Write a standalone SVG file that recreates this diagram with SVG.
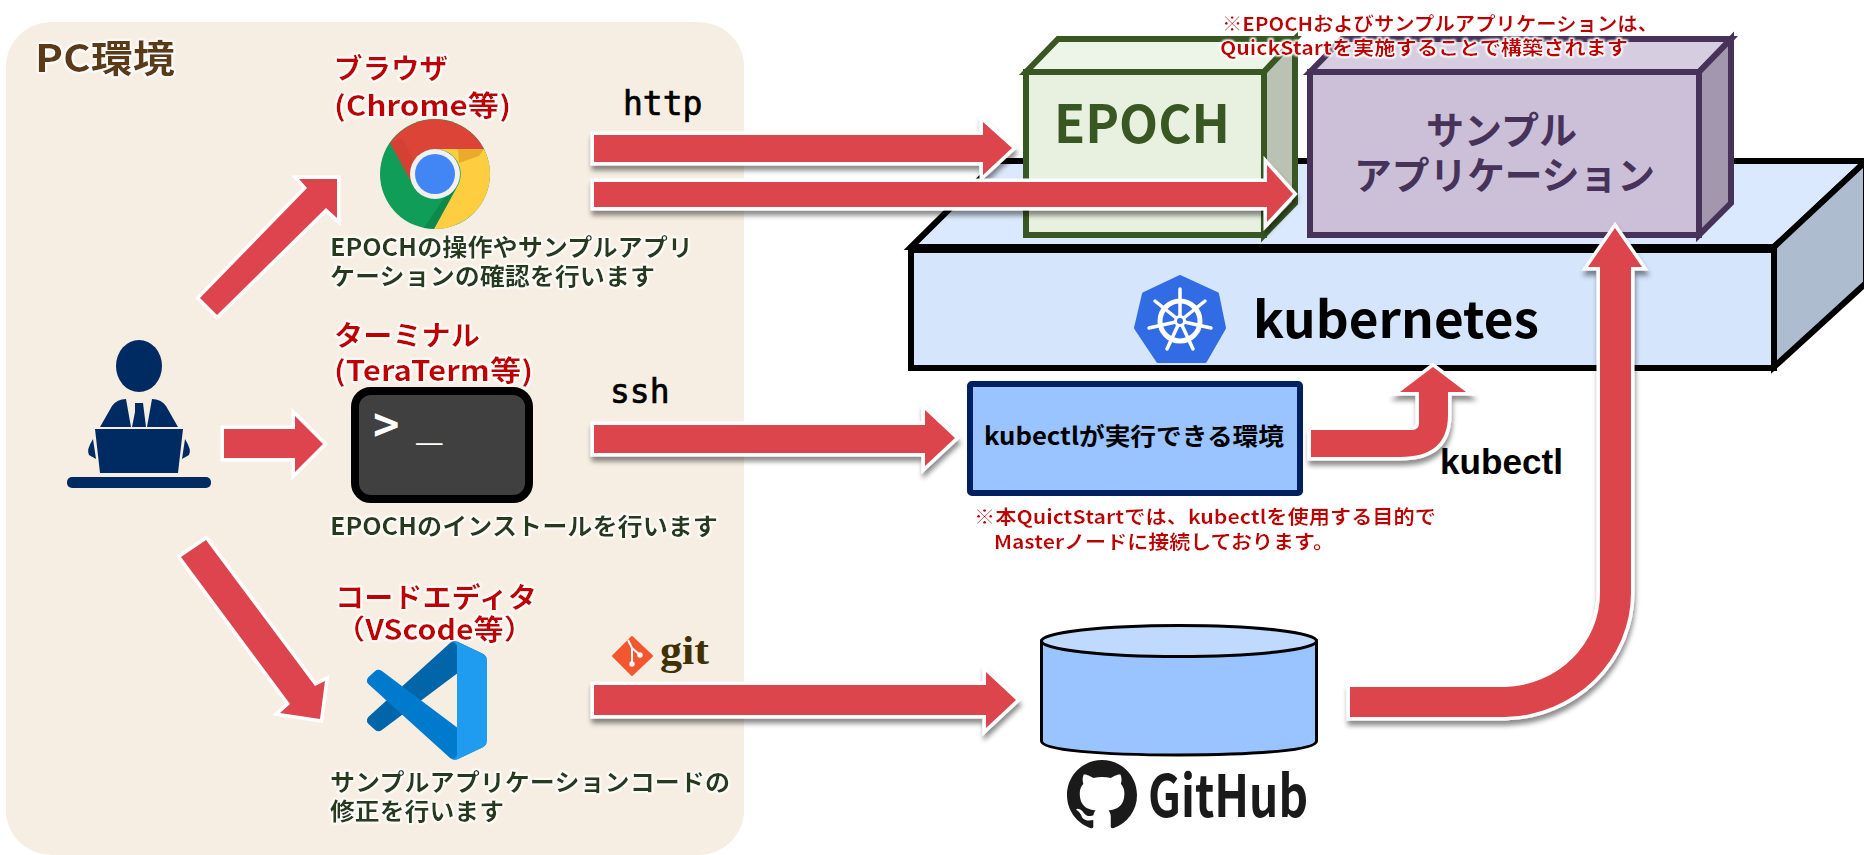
<svg xmlns="http://www.w3.org/2000/svg" width="1864" height="855" viewBox="0 0 1864 855">
<style>
text{font-family:"Noto Sans CJK JP","Liberation Sans",sans-serif;font-weight:700}
.red{fill:#C00000;filter:url(#glow)}
.dsc{fill:#263A1C;font-size:24px;filter:url(#glow)}
.mono{font-family:"DejaVu Sans Mono","Liberation Mono",monospace;font-size:33px;font-weight:400;fill:#000;stroke:#000;stroke-width:.7}
.arrow{fill:#DD444E;stroke:#fff;stroke-width:7;stroke-linejoin:miter;stroke-miterlimit:8;paint-order:stroke}
.sh{filter:url(#sh)}
</style>
<defs>
<filter id="glow" x="-10%" y="-30%" width="120%" height="160%"><feMorphology in="SourceAlpha" operator="dilate" radius="1"/><feGaussianBlur stdDeviation="1.3" result="b"/><feFlood flood-color="#fff"/><feComposite in2="b" operator="in"/><feMerge><feMergeNode/><feMergeNode/><feMergeNode in="SourceGraphic"/></feMerge></filter>
<filter id="sh" x="-10%" y="-30%" width="120%" height="170%"><feDropShadow dx="1" dy="5" stdDeviation="2.5" flood-color="#000" flood-opacity=".45"/></filter>
</defs>
<rect width="1864" height="855" fill="#fff"/>
<g id="pc-panel"><rect x="6" y="22" width="738" height="833" rx="46" ry="44" fill="#F6EEE3"/>
<text x="35" y="72" font-size="38" fill="#5A3A14" textLength="140" lengthAdjust="spacingAndGlyphs" filter="url(#glow)">PC環境</text></g>
<g id="user" fill="#002B62">
<ellipse cx="139" cy="366" rx="23" ry="26"/>
<path d="M100 427L112 406Q117 399 126 399L131 427ZM147 427L152 399Q161 399 166 406L178 427Z"/>
<path d="M135 403H143L146 427H132L135 412Z"/>
<path d="M95 429H183L178 473H100ZM93 439Q86 450 89 455L96 459ZM185 439Q192 450 189 455L182 459Z"/>
<rect x="67" y="477" width="144" height="11" rx="5"/></g>
<g id="browser">
<text class="red" x="334" y="79" font-size="28" textLength="114" lengthAdjust="spacingAndGlyphs">ブラウザ</text>
<text class="red" x="334" y="116" font-size="28" textLength="177" lengthAdjust="spacingAndGlyphs">(Chrome等)</text>
<circle cx="435" cy="174" r="55" fill="#0F9D58"/>
<path d="M435 149H484A55 55 0 0 0 390 143L414 187A25 25 0 0 1 435 149Z" fill="#DB4437"/>
<path d="M435 149H484A55 55 0 0 1 434 229L457 187A25 25 0 0 0 435 149Z" fill="#FFCD40"/>
<path d="M390 143L414 187L420 172L402 138Z" fill="#B8352A" opacity=".2"/>
<path d="M458 149H484L479 156L459 163Z" fill="#D98F1E" opacity=".55"/>
<path d="M434 229L457 187L446 195L424 228Z" fill="#0A6B3C" opacity=".4"/>
<circle cx="435" cy="174" r="25" fill="#F1F1F1"/><circle cx="435" cy="174" r="20" fill="#4285F4"/>
<text class="dsc" x="330" y="256" textLength="363" lengthAdjust="spacingAndGlyphs">EPOCHの操作やサンプルアプリ</text>
<text class="dsc" x="330" y="285" textLength="325" lengthAdjust="spacingAndGlyphs">ケーションの確認を行います</text></g>
<g id="terminal">
<text class="red" x="334" y="346" font-size="28" textLength="146" lengthAdjust="spacingAndGlyphs">ターミナル</text>
<text class="red" x="334" y="381" font-size="28" textLength="199" lengthAdjust="spacingAndGlyphs">(TeraTerm等)</text>
<rect x="355" y="391" width="174" height="108" rx="16" fill="#404040" stroke="#000" stroke-width="8"/>
<text x="373" y="439" font-size="44" fill="#fff" style="font-family:'DejaVu Sans Mono',monospace;font-weight:700">&gt;</text>
<text x="416" y="434" font-size="44" fill="#fff" style="font-family:'DejaVu Sans Mono',monospace;font-weight:400">_</text>
<text class="dsc" x="330" y="535" textLength="388" lengthAdjust="spacingAndGlyphs">EPOCHのインストールを行います</text></g>
<g id="vscode">
<text class="red" x="335" y="608" font-size="28" textLength="202" lengthAdjust="spacingAndGlyphs">コードエディタ</text>
<text class="red" x="335" y="640" font-size="28" textLength="199" lengthAdjust="spacingAndGlyphs">（VScode等）</text>
<g transform="translate(367 641) scale(1.2 1.19)">
<path fill="#0065A9" d="M96.4614 10.7962L75.8569 0.875542C73.4719 -0.272773 70.6217 0.211611 68.75 2.08333L1.29858 63.5832C-0.515693 65.2373 -0.513607 68.0937 1.30308 69.7452L6.81272 74.754C8.29793 76.1042 10.5347 76.2036 12.1338 74.9905L93.3609 13.3699C96.086 11.3026 100 13.2462 100 16.6667V16.4275C100 14.0265 98.6246 11.8378 96.4614 10.7962Z"/>
<path fill="#007ACC" d="M96.4614 89.2038L75.8569 99.1245C73.4719 100.273 70.6217 99.7884 68.75 97.9167L1.29858 36.4169C-0.515693 34.7627 -0.513607 31.9063 1.30308 30.2548L6.81272 25.246C8.29793 23.8958 10.5347 23.7964 12.1338 25.0095L93.3609 86.6301C96.086 88.6974 100 86.7538 100 83.3334V83.5726C100 85.9735 98.6246 88.1622 96.4614 89.2038Z"/>
<path fill="#1F9CF0" d="M75.8578 99.1263C73.4721 100.274 70.6219 99.7885 68.75 97.9166C71.0564 100.223 75 98.5895 75 95.3278V4.67213C75 1.41039 71.0564 -0.223106 68.75 2.08329C70.6219 0.211402 73.4721 -0.273666 75.8578 0.873633L96.4587 10.7807C98.6234 11.8217 100 14.0112 100 16.4132V83.5871C100 85.9891 98.6234 88.1786 96.4586 89.2196L75.8578 99.1263Z"/></g>
<text class="dsc" x="330" y="791" textLength="400" lengthAdjust="spacingAndGlyphs">サンプルアプリケーションコードの</text>
<text class="dsc" x="330" y="820" textLength="174" lengthAdjust="spacingAndGlyphs">修正を行います</text></g>
<g id="kubernetes">
<path d="M911 247L998 161H1866L1774 247Z" fill="#DAE9FD" stroke="#000" stroke-width="6"/>
<path d="M1774 247L1866 161V283L1774 367Z" fill="#ADBCCF" stroke="#000" stroke-width="6"/>
<rect x="911" y="250" width="863" height="118" fill="#D4E5FC" stroke="#000" stroke-width="6"/>
<path d="M1180 277L1217 294L1224 328L1205 361H1158L1136 328L1144 294Z" fill="#326CE5" stroke="#326CE5" stroke-width="4" stroke-linejoin="round"/>
<g stroke="#fff" fill="none" stroke-linecap="round"><circle cx="1180" cy="321" r="20" stroke-width="5"/>
<path stroke-width="3.500" d="M1180 321V289M1180 321L1205 301M1180 321L1211 328M1180 321L1193 349M1180 321L1167 349M1180 321L1149 328M1180 321L1155 301"/></g>
<circle cx="1180" cy="321" r="6" fill="#fff"/><circle cx="1180" cy="321" r="3" fill="#326CE5"/>
<text x="1253" y="338" font-size="50" fill="#000" textLength="286" lengthAdjust="spacingAndGlyphs">kubernetes</text></g>
<g id="epoch">
<path d="M1026 72L1058 39H1295L1264 72Z" fill="#EDF4E8" stroke="#385723" stroke-width="6"/>
<path d="M1264 72L1295 39V203L1264 235Z" fill="#BAC2B3" stroke="#385723" stroke-width="6"/>
<rect x="1026" y="72" width="238" height="163" fill="#E8F1E0" stroke="#385723" stroke-width="6"/>
<text x="1054" y="143" font-size="52" fill="#385723" textLength="176" lengthAdjust="spacingAndGlyphs">EPOCH</text></g>
<g id="sample-app">
<path d="M1310 72L1342 39H1731L1699 72Z" fill="#D6CDE1" stroke="#47335A" stroke-width="6"/>
<path d="M1699 72L1731 39V203L1699 235Z" fill="#A397AD" stroke="#47335A" stroke-width="6"/>
<rect x="1310" y="72" width="389" height="163" fill="#CCBFD8" stroke="#47335A" stroke-width="6"/>
<text x="1426" y="144" font-size="38" fill="#47335A" textLength="151" lengthAdjust="spacingAndGlyphs">サンプル</text>
<text x="1354" y="189" font-size="38" fill="#47335A" textLength="301" lengthAdjust="spacingAndGlyphs">アプリケーション</text></g>
<g id="note-top">
<text class="red" x="1222" y="31" font-size="19" textLength="436" lengthAdjust="spacingAndGlyphs">※EPOCHおよびサンプルアプリケーションは、</text>
<text class="red" x="1220" y="55" font-size="19" textLength="408" lengthAdjust="spacingAndGlyphs">QuickStartを実施することで構築されます</text></g>
<g id="kubectl-env">
<rect x="970" y="384" width="330" height="109" rx="2" fill="#99C4FF" stroke="#002060" stroke-width="6"/>
<text x="984" y="445" font-size="24" fill="#000" textLength="300" lengthAdjust="spacingAndGlyphs">kubectlが実行できる環境</text></g>
<g id="note-kubectl">
<text class="red" x="974" y="524" font-size="19" textLength="462" lengthAdjust="spacingAndGlyphs">※本QuictStartでは、kubectlを使用する目的で</text>
<text class="red" x="994" y="549" font-size="19" textLength="340" lengthAdjust="spacingAndGlyphs">Masterノードに接続しております。</text></g>
<g id="github">
<path d="M1041.5 641V741C1041.5 750 1100 755 1179 755S1316.500 750 1316.500 741V641Z" fill="#99C4FF" stroke="#000" stroke-width="3"/>
<ellipse cx="1179" cy="641" rx="137.500" ry="15.500" fill="#BFD9FF" stroke="#000" stroke-width="3"/>
<path transform="translate(1067 760) scale(4.375 4.375)" fill="#1A1A1A" d="M8 0C3.58 0 0 3.58 0 8c0 3.54 2.29 6.53 5.470 7.590.4.070.55-.17.55-.38 0-.19-.01-.82-.01-1.490-2.010.37-2.530-.49-2.690-.94-.09-.23-.48-.94-.82-1.130-.28-.15-.68-.52-.01-.53.63-.01 1.080.58 1.230.82.72 1.210 1.870.87 2.330.66.07-.52.28-.87.51-1.070-1.780-.2-3.640-.89-3.640-3.950 0-.87.31-1.590.82-2.150-.08-.2-.36-1.020.08-2.120 0 0 .67-.21 2.200.82.64-.18 1.320-.27 2-.27.68 0 1.360.09 2 .27 1.530-1.040 2.200-.82 2.200-.82.44 1.100.16 1.920.08 2.120.51.56.82 1.270.82 2.150 0 3.070-1.870 3.750-3.650 3.950.29.25.54.73.54 1.480 0 1.070-.01 1.930-.01 2.200 0 .21.15.46.55.38A8.013 8.013 0 0016 8c0-4.420-3.580-8-8-8z"/>
<text x="1148" y="817" font-size="58" fill="#1A1A1A" textLength="160" lengthAdjust="spacingAndGlyphs">GitHub</text></g>
<g id="labels">
<text class="mono" x="623" y="115">http</text>
<text class="mono" x="610" y="403">ssh</text>
<text x="1440" y="474" font-size="35" fill="#000" style="font-family:'Liberation Sans',sans-serif" textLength="123" lengthAdjust="spacingAndGlyphs">kubectl</text>
<path d="M632 637L652 656L632 675L613 656Z" fill="#F4562F" stroke="#F4562F" stroke-width="2" stroke-linejoin="round"/>
<path d="M628 640L632 648V664M632 648L640 655" stroke="#fff" stroke-width="2" fill="none"/><circle cx="632" cy="664" r="2.700" fill="#fff"/><circle cx="640" cy="655" r="2.700" fill="#fff"/>
<text x="660" y="664" font-size="40" fill="#413000" style="font-family:'Liberation Serif',serif" textLength="49" lengthAdjust="spacingAndGlyphs">git</text></g>
<g id="connectors">
<polygon class="arrow" points="200,298 307,188 299,179 337,179 337,218 326,208 217,315"/>
<polygon class="arrow" points="224,429 295,429 295,416 323,444 295,472 295,458 224,458"/>
<polygon class="arrow" points="181,557 206,540 315,686 325,681 320,719 280,713 290,704"/>
<polygon class="arrow sh" points="594,135 983,135 983,122 1012,148 983,175 983,162 594,162"/>
<polygon class="arrow sh" points="594,182 1267,182 1267,165 1293,194 1267,222 1267,207 594,207"/>
<polygon class="arrow sh" points="594,425 925,425 925,410 955,438 925,466 925,453 594,453"/>
<polygon class="arrow sh" points="594,685 986,685 986,672 1016,700 986,728 986,715 594,715"/>
<path class="arrow sh" d="M1311 430H1412Q1419 430 1419 423V392H1400L1433 367L1466 392H1448V415Q1448 457 1400 457H1311Z"/>
<path class="arrow sh" d="M1350 687H1505A98 94 0 0 0 1600 593V267H1588L1615 228L1642 267H1631V593A129 124 0 0 1 1505 717H1350Z"/>
</g>
</svg>
